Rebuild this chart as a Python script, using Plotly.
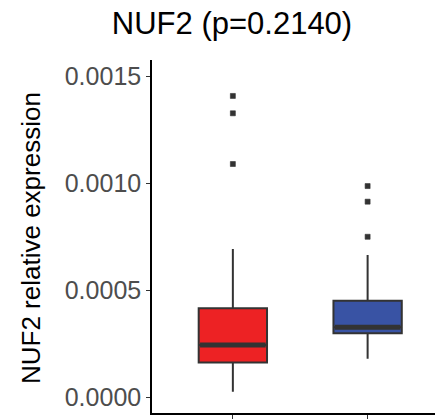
import plotly.graph_objects as go

# Group positions on the discrete x axis
groups = ["group1", "group2"]
positions = [1, 2]
fill_colors = ["#ED2224", "#3953A4"]

# Box-plot summary statistics (NUF2 relative expression)
lower_whisker = [0.0000262, 0.000180]
q1_values = [0.000162, 0.000299]
median_values = [0.000244, 0.000327]
q3_values = [0.000416, 0.000451]
upper_whisker = [0.000693, 0.000665]

# Outlying samples per group
outliers_group1 = [0.001408, 0.001327, 0.001090]
outliers_group2 = [0.000987, 0.000914, 0.000750]

tick_values = [0.0, 0.0005, 0.0010, 0.0015]
tick_labels = ["0.0000", "0.0005", "0.0010", "0.0015"]

box_width = 0.507
edge = "#333333"

fig = go.Figure()

for i, name in enumerate(groups):
    fig.add_trace(go.Box(
        name=name,
        x=[positions[i]],
        q1=[q1_values[i]],
        median=[median_values[i]],
        q3=[q3_values[i]],
        lowerfence=[lower_whisker[i]],
        upperfence=[upper_whisker[i]],
        width=box_width,
        whiskerwidth=0,
        fillcolor=fill_colors[i],
        line=dict(color=edge, width=2),
        boxpoints=False,
        showlegend=False,
        hoverinfo="skip",
    ))
    # thicker median bar, as drawn by ggplot
    fig.add_trace(go.Scatter(
        x=[positions[i] - box_width / 2 + 0.01, positions[i] + box_width / 2 - 0.01],
        y=[median_values[i], median_values[i]],
        mode="lines",
        line=dict(color=edge, width=5),
        showlegend=False,
        hoverinfo="skip",
    ))

for pos, pts in zip(positions, [outliers_group1, outliers_group2]):
    fig.add_trace(go.Scatter(
        x=[pos] * len(pts),
        y=pts,
        mode="markers",
        marker=dict(symbol="square", size=5, color=edge, line=dict(width=0.6, color=edge)),
        showlegend=False,
        hoverinfo="skip",
    ))

fig.update_layout(
    width=435,
    height=419,
    margin=dict(l=152, r=0, t=60, b=6),
    plot_bgcolor="white",
    paper_bgcolor="white",
    font=dict(family="Liberation Sans, Arial, sans-serif", color="black"),
    title=dict(
        text="NUF2 (p=0.2140)",
        x=232 / 435, xref="container", xanchor="center",
        y=1 - 23 / 419, yref="container", yanchor="middle",
        font=dict(size=31, color="black"),
    ),
    xaxis=dict(
        range=[0.4, 2.5],
        tickvals=positions,
        ticktext=["", ""],
        showgrid=False,
        zeroline=False,
        showline=True,
        linecolor="black",
        linewidth=1.6,
        ticks="outside",
        ticklen=4,
        tickwidth=1.4,
        tickcolor=edge,
    ),
    yaxis=dict(
        range=[-0.0000734, 0.001576],
        tickvals=tick_values,
        ticktext=tick_labels,
        showgrid=False,
        zeroline=False,
        showline=True,
        linecolor="black",
        linewidth=1.6,
        ticks="outside",
        ticklen=4,
        tickwidth=1.4,
        tickcolor=edge,
        tickfont=dict(size=25, color="#4D4D4D"),
    ),
    annotations=[dict(
        text="NUF2 relative expression",
        textangle=-90,
        x=(31 - 152) / 283, xref="paper",
        y=1 - (238 - 60) / 353, yref="paper",
        xanchor="center", yanchor="middle",
        showarrow=False,
        font=dict(size=26, color="black"),
    )],
)

fig.write_html("out.html")
